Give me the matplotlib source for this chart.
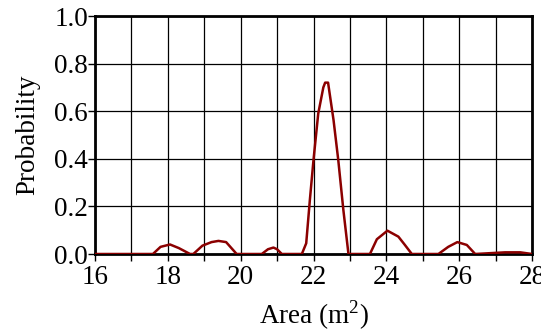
import matplotlib
matplotlib.use("Agg")
import matplotlib.pyplot as plt
from matplotlib.ticker import MultipleLocator

area = [16.0, 17.59, 17.8, 18.06, 18.3, 18.61, 18.70, 18.95, 19.2, 19.39, 19.6, 19.89,
        20.58, 20.75, 20.90, 21.0, 21.13, 21.68, 21.8, 21.9, 22.0, 22.13, 22.27, 22.32, 22.40,
        22.55, 22.68, 22.82, 22.96, 23.55, 23.74, 24.03, 24.33, 24.5, 24.70,
        25.43, 25.7, 25.95, 26.21, 26.44, 27.26, 27.68, 28.0]
prob = [0.0, 0.0, 0.03, 0.04, 0.025, 0.0, 0.0, 0.035, 0.05, 0.055, 0.05, 0.0,
        0.0, 0.02, 0.027, 0.02, 0.0, 0.0, 0.045, 0.227, 0.395, 0.59, 0.70, 0.72, 0.72,
        0.563, 0.395, 0.185, 0.0, 0.0, 0.062, 0.098, 0.073, 0.04, 0.0,
        0.0, 0.03, 0.05, 0.038, 0.0, 0.007, 0.007, 0.0]

plt.rcParams['font.family'] = ['Liberation Serif', 'DejaVu Serif']
plt.rcParams['mathtext.fontset'] = 'custom'
plt.rcParams['mathtext.rm'] = 'Liberation Serif'
fig = plt.figure(figsize=(5.41, 3.32), dpi=100)
ax = fig.add_axes([95/541, 1-254/332, 437/541, 238/332])
ax.plot(area, prob, color='#8b0000', lw=1.8, zorder=3)
ax.set_xlim(16, 28)
ax.set_ylim(0, 1.0)
ax.xaxis.set_major_locator(MultipleLocator(2))
ax.xaxis.set_minor_locator(MultipleLocator(1))
ax.set_yticks([0, 0.2, 0.4, 0.6, 0.8, 1.0])
ax.set_yticklabels(['0.0', '0.2', '0.4', '0.6', '0.8', '1.0'])
ax.grid(True, which='both', color='black', lw=0.9)
ax.tick_params(axis='both', which='both', direction='out', length=5, width=1, labelsize=19.5, pad=0)
ax.tick_params(axis='x', which='major', pad=3)
for s in ax.spines.values():
    s.set_linewidth(2)
ax.set_xlabel(r'Area (m$^{\mathrm{2}}$)', fontsize=19.5, labelpad=6)
ax.set_ylabel('Probability', fontsize=19.5, labelpad=10)
fig.savefig('out.png', dpi=100)
